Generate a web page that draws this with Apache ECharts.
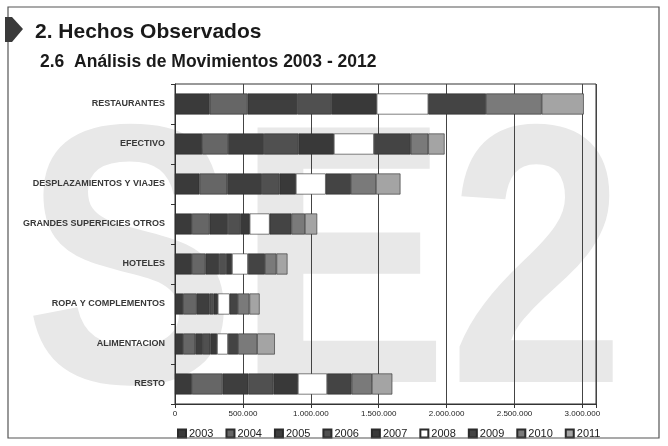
<!DOCTYPE html>
<html>
<head>
<meta charset="utf-8">
<script src="https://cdn.jsdelivr.net/npm/echarts@6/dist/echarts.min.js"></script>
<style>
html,body{margin:0;padding:0;background:#fff;}
#c{width:668px;height:446px;}
</style>
</head>
<body>
<div id="c"></div>
<script>
const categories = ['RESTAURANTES','EFECTIVO','DESPLAZAMIENTOS Y VIAJES','GRANDES SUPERFICIES OTROS','HOTELES','ROPA Y COMPLEMENTOS','ALIMENTACION','RESTO'];
const years = ['2003','2004','2005','2006','2007','2008','2009','2010','2011'];
const v2003 = [255000, 200000, 180000, 125000, 125000, 60000, 60000, 125000];
const v2004 = [280000, 190000, 205000, 130000, 100000, 100000, 90000, 225000];
const v2005 = [365000, 265000, 255000, 135000, 100000, 95000, 55000, 190000];
const v2006 = [250000, 255000, 130000, 90000, 50000, 30000, 55000, 185000];
const v2007 = [335000, 260000, 120000, 70000, 45000, 30000, 50000, 180000];
const v2008 = [380000, 295000, 220000, 147000, 117000, 88000, 80000, 215000];
const v2009 = [425000, 270000, 185000, 160000, 125000, 60000, 75000, 180000];
const v2010 = [410000, 130000, 185000, 100000, 85000, 85000, 140000, 150000];
const v2011 = [310000, 120000, 180000, 90000, 81000, 75000, 130000, 150000];
const xTicks = [0, 500000, 1000000, 1500000, 2000000, 2500000, 3000000];

const valuesByYear = [v2003, v2004, v2005, v2006, v2007, v2008, v2009, v2010, v2011];
const colors = ['#3a3a3a', '#666666', '#3e3e3e', '#505050', '#393939', '#ffffff', '#444444', '#7a7a7a', '#a4a4a4'];

function fmt(v) {
  return String(v).replace(/\B(?=(\d{3})+(?!\d))/g, '.');
}

const chart = echarts.init(document.getElementById('c'), null, {renderer: 'canvas'});
const series = years.map((y, i) => ({
  name: y,
  type: 'bar',
  stack: 'total',
  barWidth: 21,
  data: valuesByYear[i],
  itemStyle: {color: colors[i], borderColor: '#2a2a2a', borderWidth: 0.6},
  emphasis: {disabled: true}
}));

chart.setOption({
  animation: false,
  backgroundColor: '#ffffff',
  graphic: [
    {type: 'text', left: 24, top: 95, z: -10, silent: true, scaleX: 0.86,
     style: {text: 'SE2', fontSize: 370, fontWeight: 'bold', fontFamily: 'Liberation Sans, Arial', fill: '#e8e8e8'}},
    {type: 'rect', shape: {x: 8, y: 7, width: 651, height: 431}, z: 10, silent: true,
     style: {fill: 'none', stroke: '#555', lineWidth: 1.2}},
    {type: 'polygon', shape: {points: [[5,17],[12,17],[23,29],[12,42],[5,42]]}, z: 10, silent: true,
     style: {fill: '#3a3a3a'}},
    {type: 'text', left: 35, top: 22, z: 10,
     style: {text: '2. Hechos Observados', fontSize: 21, fontWeight: 'bold', fontFamily: 'Liberation Sans, Arial', fill: '#1a1a1a'}},
    {type: 'text', left: 40, top: 53, z: 10,
     style: {text: '2.6  Análisis de Movimientos 2003 - 2012', fontSize: 17.5, fontWeight: 'bold', fontFamily: 'Liberation Sans, Arial', fill: '#1a1a1a'}}
  ],
  legend: {
    data: years,
    left: 172,
    top: 423,
    itemWidth: 8,
    itemHeight: 8,
    itemGap: 12,
    icon: 'rect',
    textStyle: {fontSize: 11, color: '#222', fontFamily: 'Liberation Sans, Arial', padding: [0, 0, 0, -2]}
  },
  grid: {
    left: 175, right: 72, top: 84, bottom: 42,
    show: true, borderColor: '#333', borderWidth: 1, backgroundColor: 'transparent'
  },
  xAxis: {
    type: 'value',
    min: 0,
    max: 3100000,
    interval: 500000,
    axisLine: {show: true, lineStyle: {color: '#333'}},
    axisTick: {show: true, length: 4, lineStyle: {color: '#333'}},
    splitLine: {show: true, lineStyle: {color: '#444', width: 1}},
    axisLabel: {
      fontSize: 8, color: '#222', margin: 6,
      fontFamily: 'Liberation Sans, Arial',
      formatter: v => (xTicks.indexOf(v) >= 0 ? fmt(v) : '')
    }
  },
  yAxis: {
    type: 'category',
    data: categories,
    inverse: true,
    axisLine: {show: true, lineStyle: {color: '#333'}},
    axisTick: {show: true, length: 4, lineStyle: {color: '#333'}},
    axisLabel: {fontSize: 9, fontWeight: 'bold', color: '#383838', margin: 10,
      fontFamily: 'Liberation Sans, Arial'}
  },
  series: series
});
</script>
</body>
</html>
